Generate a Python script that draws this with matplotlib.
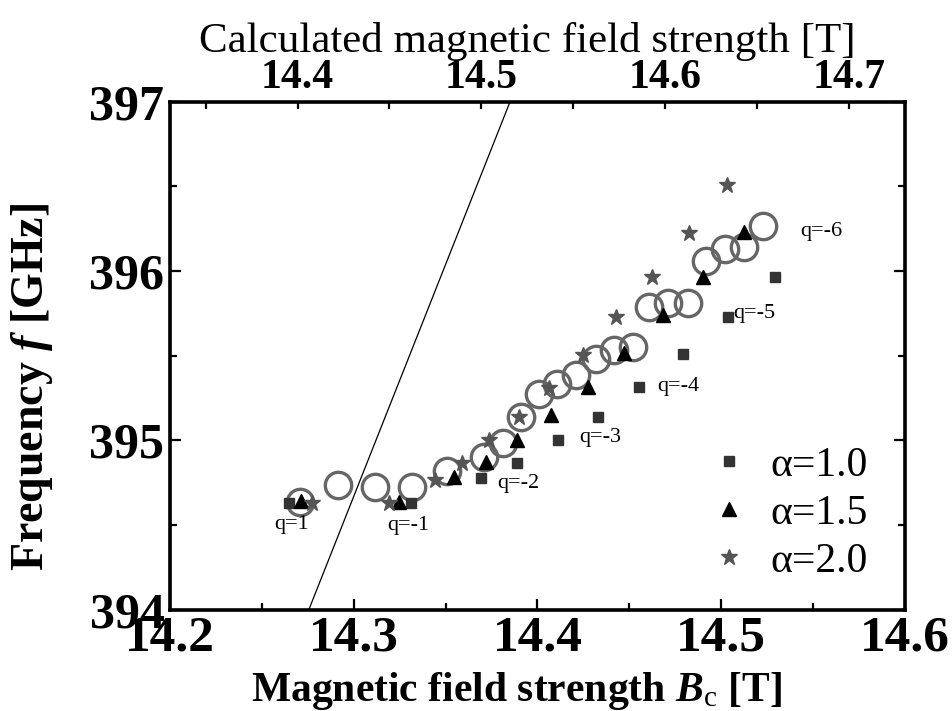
import numpy as np
import matplotlib
matplotlib.use('Agg')
import matplotlib.pyplot as plt
from matplotlib.ticker import MultipleLocator

plt.rcParams['font.family'] = ['Liberation Serif', 'DejaVu Serif']
plt.rcParams['mathtext.fontset'] = 'custom'
plt.rcParams['mathtext.rm'] = 'Liberation Serif'
plt.rcParams['mathtext.it'] = 'Liberation Serif:italic'
plt.rcParams['mathtext.bf'] = 'Liberation Serif:bold'
plt.rcParams['mathtext.bfit'] = 'Liberation Serif:italic:bold'

# measured resonance (open circles)
circle_B = [14.2709, 14.2913, 14.3115, 14.3315, 14.3510, 14.3709, 14.3810, 14.3909,
            14.4009, 14.4106, 14.4209, 14.4319, 14.4418, 14.4520, 14.4609, 14.4710,
            14.4819, 14.4919, 14.5020, 14.5123, 14.5228]
circle_f = [394.639, 394.737, 394.727, 394.727, 394.820, 394.900, 394.983, 395.140,
            395.274, 395.333, 395.386, 395.481, 395.534, 395.552, 395.789, 395.809,
            395.809, 396.062, 396.130, 396.143, 396.265]

# calculated, alpha = 1.0
sq_B = [14.2645, 14.3313, 14.3691, 14.3891, 14.4110, 14.4328, 14.4555, 14.4792,
        14.5037, 14.5291]
sq_f = [394.633, 394.633, 394.777, 394.866, 395.003, 395.140, 395.314, 395.510,
        395.727, 395.963]

# alpha = 1.5
tri_B = [14.2715, 14.3245, 14.3546, 14.3718, 14.3891, 14.4073, 14.4273, 14.4473,
         14.4683, 14.4901, 14.5124]
tri_f = [394.645, 394.639, 394.786, 394.875, 395.003, 395.150, 395.317, 395.514,
         395.740, 395.966, 396.232]

# alpha = 2.0
star_B = [14.2773, 14.3191, 14.3440, 14.3591, 14.3736, 14.3900, 14.4064, 14.4246,
          14.4428, 14.4621, 14.4824, 14.5033]
star_f = [394.629, 394.629, 394.767, 394.866, 395.003, 395.140, 395.308, 395.504,
          395.726, 395.965, 396.227, 396.507]

# straight reference line
line_B = [14.2755, 14.3851]
line_f = [394.0, 397.0]

q_labels = ['q=1', 'q=-1', 'q=-2', 'q=-3', 'q=-4', 'q=-5', 'q=-6']
q_B = [14.2664, 14.3298, 14.3898, 14.4340, 14.4766, 14.5181, 14.5546]
q_f = [394.507, 394.501, 394.749, 395.015, 395.316, 395.752, 396.236]

top_offset = 0.1306

fig = plt.figure(figsize=(9.52, 7.11), dpi=100)
ax = fig.add_axes([0.1786, 0.1421, 0.772, 0.7151])

ax.plot(line_B, line_f, color='black', lw=0.9, zorder=1)
ax.plot(circle_B, circle_f, 'o', ms=19, mfc='none', mec='#666666', mew=2.4, zorder=2)
ax.plot(sq_B, sq_f, 's', ms=7.5, color='#333333', ls='none', label='α=1.0', zorder=3)
ax.plot(tri_B, tri_f, '^', ms=10, color='black', ls='none', label='α=1.5', zorder=3)
ax.plot(star_B, star_f, '*', ms=12, color='#555555', ls='none', label='α=2.0', zorder=3)

for s, b, f in zip(q_labels, q_B, q_f):
    ax.text(b, f, s, fontsize=16, ha='center', va='center')

ax.set_xlim(14.2, 14.6)
ax.set_ylim(394, 397)
ax.xaxis.set_major_locator(MultipleLocator(0.1))
ax.xaxis.set_minor_locator(MultipleLocator(0.05))
ax.yaxis.set_major_locator(MultipleLocator(1))
ax.yaxis.set_minor_locator(MultipleLocator(0.5))
ax.tick_params(which='both', direction='in', right=True, width=1.6)
ax.tick_params(which='major', length=8)
ax.tick_params(which='minor', length=5)
ax.tick_params(axis='x', labelsize=37, pad=4)
ax.tick_params(axis='y', labelsize=36, pad=4)
for lab in ax.get_xticklabels() + ax.get_yticklabels():
    lab.set_fontweight('bold')
for sp in ax.spines.values():
    sp.set_linewidth(2.6)

ax.set_xlabel(r'Magnetic field strength $\mathbfit{B}_{\mathrm{c}}$ [T]',
              fontsize=30, fontweight='bold')
ax.xaxis.set_label_coords(0.472, -0.118)
ax.set_ylabel(r'Frequency $\mathbfit{f}$ [GHz]', fontsize=33, fontweight='bold')
ax.yaxis.set_label_coords(-0.157, 0.4385)

top = ax.twiny()
top.set_xlim(14.2 + top_offset, 14.6 + top_offset)
top.xaxis.set_major_locator(MultipleLocator(0.1))
top.xaxis.set_minor_locator(MultipleLocator(0.05))
top.tick_params(which='both', direction='in', length=5, width=1.6, labelsize=30, pad=3)
for lab in top.get_xticklabels():
    lab.set_fontweight('bold')
top.set_xlabel('Calculated magnetic field strength [T]', fontsize=31)
top.xaxis.set_label_coords(0.486, 1.097)

ax.legend(loc='lower right', frameon=False, fontsize=30, handlelength=1.0,
          handletextpad=0.5, labelspacing=0.23, borderaxespad=0.0, borderpad=0.0,
          bbox_to_anchor=(0.95, 0.057))

fig.savefig('out.png', dpi=100)
